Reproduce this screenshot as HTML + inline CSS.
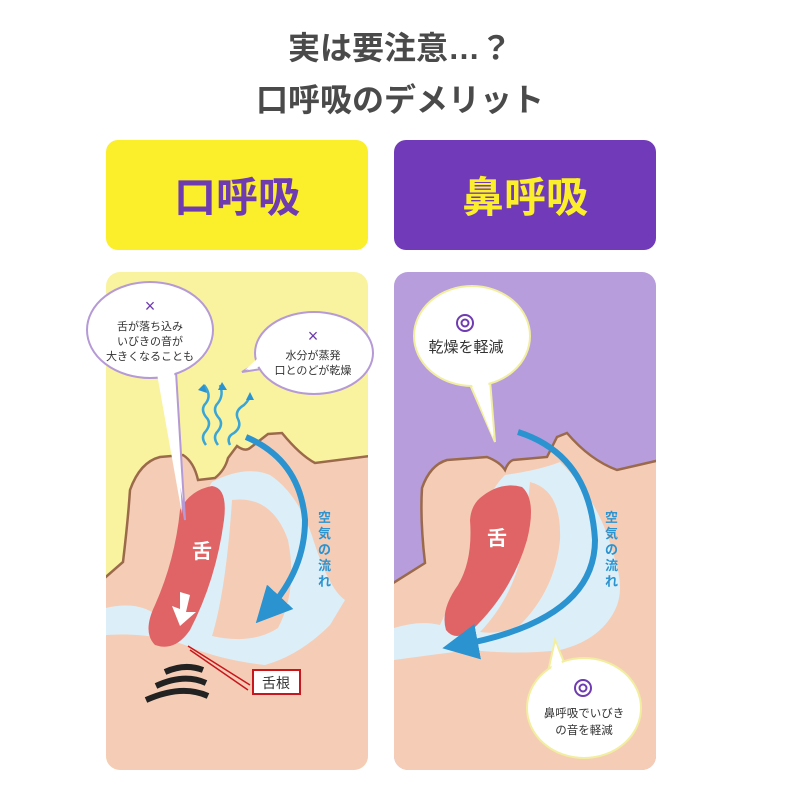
<!DOCTYPE html>
<html><head><meta charset="utf-8"><style>
html,body{margin:0;padding:0;background:#fff;}
svg{display:block;}
text{font-family:"Liberation Sans","Noto Sans CJK JP",sans-serif;}
</style></head><body>
<svg width="800" height="800" viewBox="0 0 800 800" xmlns="http://www.w3.org/2000/svg">
<defs>
<clipPath id="cl"><rect x="106" y="272" width="262" height="498" rx="14"/></clipPath>
<clipPath id="cr"><rect x="394" y="272" width="262" height="498" rx="14"/></clipPath>
<marker id="ah" markerWidth="6" markerHeight="6" refX="3" refY="3" orient="auto" markerUnits="strokeWidth"><path d="M0,0 L6,3 L0,6 z" fill="#2b93d0"/></marker>
</defs>
<rect width="800" height="800" fill="#fff"/>
<text x="400" y="59" font-size="32" font-weight="bold" fill="#4a4a4a" text-anchor="middle">実は要注意…？</text>
<text x="400" y="111" font-size="32" font-weight="bold" fill="#4a4a4a" text-anchor="middle">口呼吸のデメリット</text>

<rect x="106" y="140" width="262" height="110" rx="12" fill="#fbee2b"/>
<text x="237" y="212" font-size="42" font-weight="bold" fill="#6f3bb0" text-anchor="middle">口呼吸</text>
<rect x="394" y="140" width="262" height="110" rx="12" fill="#713ab8"/>
<text x="525" y="212" font-size="42" font-weight="bold" fill="#fbee2b" text-anchor="middle">鼻呼吸</text>

<!-- LEFT PANEL -->
<g clip-path="url(#cl)">
<rect x="106" y="272" width="262" height="498" fill="#f9f3a0"/>
<path d="M100,582 L123,562 Q128,520 130,490 Q140,462 160,457 L183,455 Q194,462 198,480 L215,478 Q225,470 228,458 L237,446 Q245,452 250,448 L268,434 L282,433 Q300,455 315,463 L370,456 L370,775 L100,775 Z" fill="#f5cdb6" stroke="#9b6a4b" stroke-width="2.5"/>
<path d="M212,482 Q245,465 270,475 Q300,495 315,545 Q330,590 345,600 L330,625 Q300,655 265,665 Q220,660 185,645 Q150,632 106,635 L106,608 Q140,600 160,618 L180,560 Q198,505 212,482 Z" fill="#dceff8"/>
<path d="M232,500 Q272,495 288,540 Q298,590 278,628 Q252,645 212,636 Q226,590 232,500 Z" fill="#f5cdb6"/>
<path d="M212,486 Q228,488 224,520 Q216,580 190,630 Q175,652 155,645 Q142,632 155,605 Q175,560 180,510 Q190,490 212,486 Z" fill="#e06466"/>
<text x="202" y="558" font-size="20" font-weight="bold" fill="#fff" text-anchor="middle">舌</text>
<path d="M180,592 L190,595 L186,612 L196,612 L180,626 L172,606 L180,609 Z" fill="#fff"/>
<path d="M246,437 Q300,460 305,520 Q305,570 268,610" fill="none" stroke="#2b93d0" stroke-width="6" marker-end="url(#ah)"/>
<text font-size="13" font-weight="bold" fill="#2b93d0"><tspan x="318" y="522">空</tspan><tspan x="318" y="538">気</tspan><tspan x="318" y="554">の</tspan><tspan x="318" y="570">流</tspan><tspan x="318" y="586">れ</tspan></text>
<g fill="none" stroke="#3aa6d8" stroke-width="2.5">
<path d="M206,445 q-6,-8 0,-14 q6,-8 0,-14 q-6,-8 0,-14 q6,-8 -2,-18"/>
<path d="M218,445 q-6,-8 0,-14 q6,-8 0,-14 q-6,-8 0,-14 q6,-8 2,-18"/>
<path d="M230,445 q-4,-8 4,-12 q8,-6 4,-14 q-4,-8 6,-14 q6,-6 6,-10"/>
</g>
<g fill="#2b93d0"><path d="M198,390 l6,-6 l3,9z"/><path d="M218,390 l4,-8 l5,8z"/><path d="M246,400 l4,-8 l4,8z"/></g>
<g fill="none" stroke="#222" stroke-width="6" stroke-linecap="butt">
<path d="M165,672 q20,-9 38,-2"/><path d="M156,686 q28,-13 50,-3"/><path d="M146,700 q36,-16 62,-4"/>
</g>
<path d="M188,646 L250,685 M190,650 L248,690" stroke="#c8161d" stroke-width="1.5"/>
<rect x="253" y="670" width="47" height="24" fill="#fff" stroke="#c8161d" stroke-width="2"/>
<text x="276" y="688" font-size="14" fill="#333" text-anchor="middle">舌根</text>
</g>
<!-- left bubbles (overflow panel) -->
<path d="M160,372 L185,520 L176,372 Z" fill="#fff" stroke="#b59ad6" stroke-width="2"/>
<ellipse cx="150" cy="330" rx="63" ry="48" fill="#fff" stroke="#b59ad6" stroke-width="2"/>
<path d="M156,368 L182,514 L174,368 Z" fill="#fff"/>
<text x="150" y="312" font-size="18" fill="#6f3bb0" text-anchor="middle">×</text>
<text font-size="11" fill="#333" text-anchor="middle"><tspan x="150" y="330">舌が落ち込み</tspan><tspan x="150" y="345">いびきの音が</tspan><tspan x="150" y="360">大きくなることも</tspan></text>
<path d="M262,360 L242,372 L268,368 Z" fill="#fff" stroke="#b59ad6" stroke-width="2"/>
<ellipse cx="314" cy="353" rx="59" ry="41" fill="#fff" stroke="#b59ad6" stroke-width="2"/>
<path d="M258,358 L245,370 L270,364Z" fill="#fff"/>
<text x="313" y="342" font-size="18" fill="#6f3bb0" text-anchor="middle">×</text>
<text font-size="11" fill="#333" text-anchor="middle"><tspan x="313" y="359">水分が蒸発</tspan><tspan x="313" y="374">口とのどが乾燥</tspan></text>

<!-- RIGHT PANEL -->
<g clip-path="url(#cr)">
<rect x="394" y="272" width="262" height="498" fill="#b79ddc"/>
<path d="M390,585 L425,563 Q420,520 422,488 Q430,465 447,460 L487,457 Q500,462 505,470 Q508,462 513,460 L547,457 Q553,445 557,437 L567,433 Q590,460 617,470 L660,460 L660,775 L390,775 Z" fill="#f5cdb6" stroke="#9b6a4b" stroke-width="2.5"/>
<path d="M505,475 Q540,470 560,462 Q600,500 615,560 Q625,590 615,610 Q600,640 560,650 Q520,655 470,650 Q430,655 394,660 L394,628 Q420,620 440,625 L470,560 Q480,500 505,475 Z" fill="#dceff8"/>
<path d="M530,482 Q562,490 560,540 Q555,590 520,625 Q500,635 480,632 Q520,590 525,530 Z" fill="#f5cdb6"/>
<path d="M480,498 Q500,481 522,487 Q537,500 527,540 Q512,592 472,630 Q455,642 446,630 Q440,610 458,585 Q473,560 470,520 Q471,506 480,498 Z" fill="#e06466"/>
<text x="497" y="545" font-size="20" font-weight="bold" fill="#fff" text-anchor="middle">舌</text>
<path d="M518,432 Q590,455 595,540 Q595,620 460,645" fill="none" stroke="#2b93d0" stroke-width="6" marker-end="url(#ah)"/>
<text font-size="13" font-weight="bold" fill="#2b93d0"><tspan x="605" y="522">空</tspan><tspan x="605" y="538">気</tspan><tspan x="605" y="554">の</tspan><tspan x="605" y="570">流</tspan><tspan x="605" y="586">れ</tspan></text>
<path d="M468,380 L495,442 L490,380 Z" fill="#fff" stroke="#f2eea0" stroke-width="2"/>
<ellipse cx="472" cy="336" rx="58" ry="50" fill="#fff" stroke="#f2eea0" stroke-width="2"/>
<path d="M470,380 L493,438 L488,380Z" fill="#fff"/>
<circle cx="465" cy="323" r="8" fill="none" stroke="#6f3bb0" stroke-width="2"/><circle cx="465" cy="323" r="3.5" fill="none" stroke="#6f3bb0" stroke-width="2"/>
<text x="466" y="352" font-size="15" fill="#333" text-anchor="middle">乾燥を軽減</text>
<path d="M548,672 L555,640 L568,672 Z" fill="#fff" stroke="#f2eea0" stroke-width="2"/>
<ellipse cx="584" cy="708" rx="57" ry="50" fill="#fff" stroke="#f2eea0" stroke-width="2"/>
<path d="M550,675 L556,644 L566,675Z" fill="#fff"/>
<circle cx="583" cy="688" r="8" fill="none" stroke="#6f3bb0" stroke-width="2"/><circle cx="583" cy="688" r="3.5" fill="none" stroke="#6f3bb0" stroke-width="2"/>
<text font-size="11.5" fill="#333" text-anchor="middle"><tspan x="584" y="717">鼻呼吸でいびき</tspan><tspan x="584" y="734">の音を軽減</tspan></text>
</g>
</svg>
</body></html>
